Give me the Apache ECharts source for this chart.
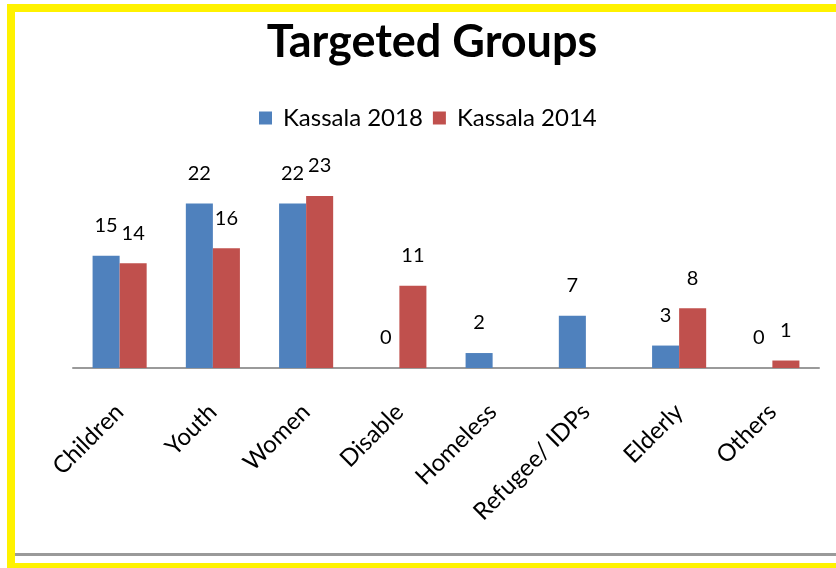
<!DOCTYPE html>
<html>
<head>
<meta charset="utf-8">
<script src="https://cdn.jsdelivr.net/npm/echarts@6/dist/echarts.min.js"></script>
<style>
html,body{margin:0;padding:0;background:#fff;}
#chart{width:836px;height:568px;}
</style>
</head>
<body>
<div id="chart"></div>
<script>
const categories = ["Children", "Youth", "Women", "Disable", "Homeless", "Refugee/ IDPs", "Elderly", "Others"];
const seriesNames = ["Kassala 2018", "Kassala 2014"];
const kassala2018 = [15, 22, 22, 0, 2, 7, 3, 0];
const kassala2014 = [14, 16, 23, 11, null, null, 8, 1];

const FONT = "Lato, 'Open Sans', sans-serif";
const chart = echarts.init(document.getElementById('chart'), null, {renderer: 'canvas'});

const labelCfg = {
  show: true,
  position: 'top',
  distance: 20,
  color: '#000',
  fontFamily: FONT,
  fontSize: 20
};

chart.setOption({
  backgroundColor: '#fff',
  animation: false,
  title: {
    text: 'Targeted Groups',
    left: 427,
    top: 15,
    textAlign: 'center',
    textStyle: {fontFamily: FONT, fontWeight: 'bold', fontSize: 45, color: '#000'}
  },
  legend: {
    data: seriesNames,
    left: 254,
    top: 101,
    itemWidth: 13,
    itemHeight: 13,
    itemGap: 10,
    icon: 'rect',
    textStyle: {fontFamily: FONT, fontSize: 24, color: '#000', padding: [0, 0, 0, 6]}
  },
  grid: {left: 73, right: 17, top: 181, bottom: 200, containLabel: false},
  xAxis: {
    type: 'category',
    data: categories,
    axisLine: {lineStyle: {color: '#9a9a9a', width: 2}},
    axisTick: {show: false},
    axisLabel: {
      interval: 0,
      rotate: 45,
      margin: 40,
      fontFamily: FONT,
      fontSize: 24,
      color: '#000'
    }
  },
  yAxis: {
    type: 'value',
    min: 0,
    max: 25,
    show: false,
    splitLine: {show: false}
  },
  series: [
    {
      name: seriesNames[0],
      type: 'bar',
      data: kassala2018,
      barWidth: '29%',
      barGap: '0%',
      itemStyle: {color: '#4F81BD'},
      label: labelCfg
    },
    {
      name: seriesNames[1],
      type: 'bar',
      data: kassala2014,
      barWidth: '29%',
      barGap: '0%',
      itemStyle: {color: '#C0504D'},
      label: labelCfg
    }
  ],
  graphic: [
    {type: 'rect', silent: true, shape: {x: 7, y: 4, width: 829, height: 8}, style: {fill: '#FFF200'}},
    {type: 'rect', silent: true, shape: {x: 7, y: 4, width: 8, height: 564}, style: {fill: '#FFF200'}},
    {type: 'rect', silent: true, shape: {x: 7, y: 563, width: 829, height: 5}, style: {fill: '#FFF200'}},
    {type: 'rect', silent: true, shape: {x: 15, y: 553, width: 821, height: 3}, style: {fill: '#9a9a9a'}}
  ]
});
</script>
</body>
</html>
